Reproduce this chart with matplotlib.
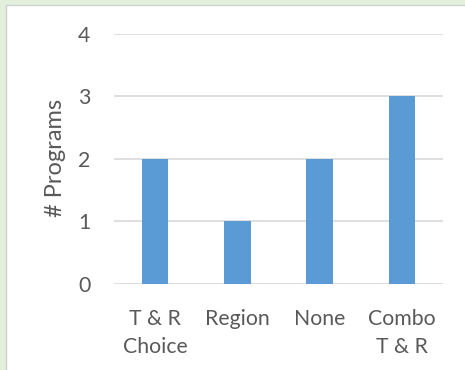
import matplotlib
matplotlib.use("Agg")
import matplotlib.pyplot as plt
from matplotlib.patches import Rectangle

categories = ["T & R\nChoice", "Region", "None", "Combo\nT & R"]
programs = [2, 1, 2, 3]
y_ticks = [0, 1, 2, 3, 4]

plt.rcParams["font.family"] = ["Lato", "DejaVu Sans"]

W, H = 465, 370
fig = plt.figure(figsize=(W / 100, H / 100), dpi=100, facecolor="#E2EFDA")

# white chart panel with a thin grey edge
panel = Rectangle((6 / W, -0.01), 1.0, 1 - 5 / H + 0.01, transform=fig.transFigure,
                  facecolor="white", edgecolor="#D0D0D0", linewidth=1.0, zorder=-5)
fig.patches.append(panel)

ax = fig.add_axes([114 / W, 1 - 283.7 / H, 329 / W, (283.7 - 33.5) / H])
ax.set_facecolor("none")
ax.set_zorder(2)

x = range(len(categories))
ax.bar(x, programs, width=0.32, color="#5B9BD5", zorder=3)

ax.set_xlim(-0.5, len(categories) - 0.5)
ax.set_ylim(0, 4)
ax.set_yticks(y_ticks)
ax.set_xticks(list(x))
ax.set_xticklabels(categories, linespacing=1.45)

ax.grid(axis="y", color="#D9D9D9", linewidth=1.2, zorder=0)
ax.grid(axis="x", visible=False)
for s in ax.spines.values():
    s.set_visible(False)

ax.tick_params(axis="both", length=0, labelsize=15.3, labelcolor="#595959")
ax.tick_params(axis="y", pad=17)
ax.tick_params(axis="x", pad=18.5)

fig.text(56 / W, 1 - 158 / H, "# Programs", rotation=90, ha="center", va="center",
         fontsize=17, color="#595959")

fig.savefig("out.png", dpi=100, facecolor=fig.get_facecolor())
